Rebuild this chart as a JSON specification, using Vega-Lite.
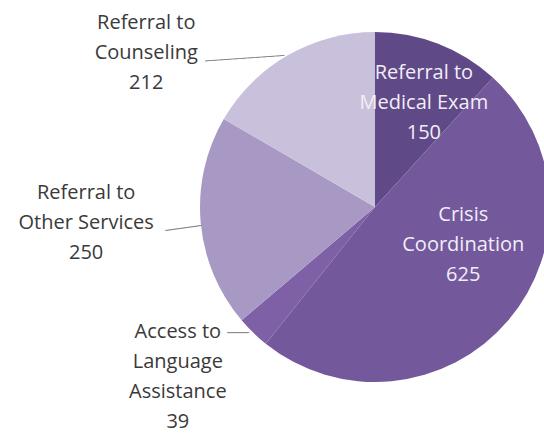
{
  "$schema": "https://vega.github.io/schema/vega-lite/v6.json",
  "width": 350,
  "height": 350,
  "autosize": {"type": "none"},
  "padding": {"left": 200, "top": 32, "right": 0, "bottom": 51},
  "background": "white",
  "config": {"view": {"stroke": null}, "text": {"font": "Open Sans", "fontSize": 20, "lineHeight": 30, "lineBreak": "\n"}},
  "data": {
    "values": [
      {"category": "Referral to Medical Exam", "label": "Referral to\nMedical Exam\n150", "value": 150},
      {"category": "Crisis Coordination", "label": "Crisis\nCoordination\n625", "value": 625},
      {"category": "Access to Language Assistance", "label": "Access to\nLanguage\nAssistance\n39", "value": 39},
      {"category": "Referral to Other Services", "label": "Referral to\nOther Services\n250", "value": 250},
      {"category": "Referral to Counseling", "label": "Referral to\nCounseling\n212", "value": 212}
    ]
  },
  "transform": [{"window": [{"op": "row_number", "as": "rank"}]}],
  "encoding": {
    "theta": {"field": "value", "type": "quantitative", "stack": true},
    "order": {"field": "rank", "type": "quantitative", "sort": "ascending"},
    "color": {
      "field": "category",
      "type": "nominal",
      "scale": {
        "domain": ["Referral to Medical Exam", "Crisis Coordination", "Access to Language Assistance", "Referral to Other Services", "Referral to Counseling"],
        "range": ["#5f4987", "#73589b", "#7d60a6", "#a899c4", "#c9c1db"]
      },
      "legend": null
    }
  },
  "layer": [
    {"mark": {"type": "arc", "outerRadius": 175}},
    {
      "mark": {"type": "text", "radius": 116, "dx": 7, "dy": -26, "align": "center", "baseline": "middle"},
      "encoding": {"text": {"condition": {"test": "datum.category === 'Referral to Medical Exam'", "field": "label"}, "value": ""}, "color": {"value": "#f1eef6"}}
    },
    {
      "mark": {"type": "text", "radius": 95, "dx": 16, "dy": -54, "align": "center", "baseline": "middle"},
      "encoding": {"text": {"condition": {"test": "datum.category === 'Crisis Coordination'", "field": "label"}, "value": ""}, "color": {"value": "#f1eef6"}}
    },
    {
      "mark": {"type": "text", "radius": 240, "dx": -30, "dy": -47, "align": "center", "baseline": "middle"},
      "encoding": {"text": {"condition": {"test": "datum.category === 'Access to Language Assistance'", "field": "label"}, "value": ""}, "color": {"value": "#3a3a3a"}}
    },
    {
      "mark": {"type": "text", "radius": 290, "dx": 0, "dy": -40, "align": "center", "baseline": "middle"},
      "encoding": {"text": {"condition": {"test": "datum.category === 'Referral to Other Services'", "field": "label"}, "value": ""}, "color": {"value": "#3a3a3a"}}
    },
    {
      "mark": {"type": "text", "radius": 180, "dx": -139, "dy": -28, "align": "center", "baseline": "middle"},
      "encoding": {"text": {"condition": {"test": "datum.category === 'Referral to Counseling'", "field": "label"}, "value": ""}, "color": {"value": "#3a3a3a"}}
    },
    {
      "mark": {"type": "text", "radius": 175, "dx": -43, "dy": 0, "angle": -4, "font": "DejaVu Sans Mono", "fontSize": 12, "align": "center", "baseline": "middle"},
      "encoding": {"text": {"condition": {"test": "datum.category === 'Referral to Counseling'", "value": "───────────"}, "value": ""}, "color": {"value": "#7f7f7f"}}
    },
    {
      "mark": {"type": "text", "radius": 175, "dx": -18, "dy": 3, "angle": -8, "font": "DejaVu Sans Mono", "fontSize": 12, "align": "center", "baseline": "middle"},
      "encoding": {"text": {"condition": {"test": "datum.category === 'Referral to Other Services'", "value": "─────"}, "value": ""}, "color": {"value": "#7f7f7f"}}
    },
    {
      "mark": {"type": "text", "radius": 175, "dx": -15, "dy": 0, "font": "DejaVu Sans Mono", "fontSize": 12, "align": "center", "baseline": "middle"},
      "encoding": {"text": {"condition": {"test": "datum.category === 'Access to Language Assistance'", "value": "───"}, "value": ""}, "color": {"value": "#7f7f7f"}}
    }
  ]
}
